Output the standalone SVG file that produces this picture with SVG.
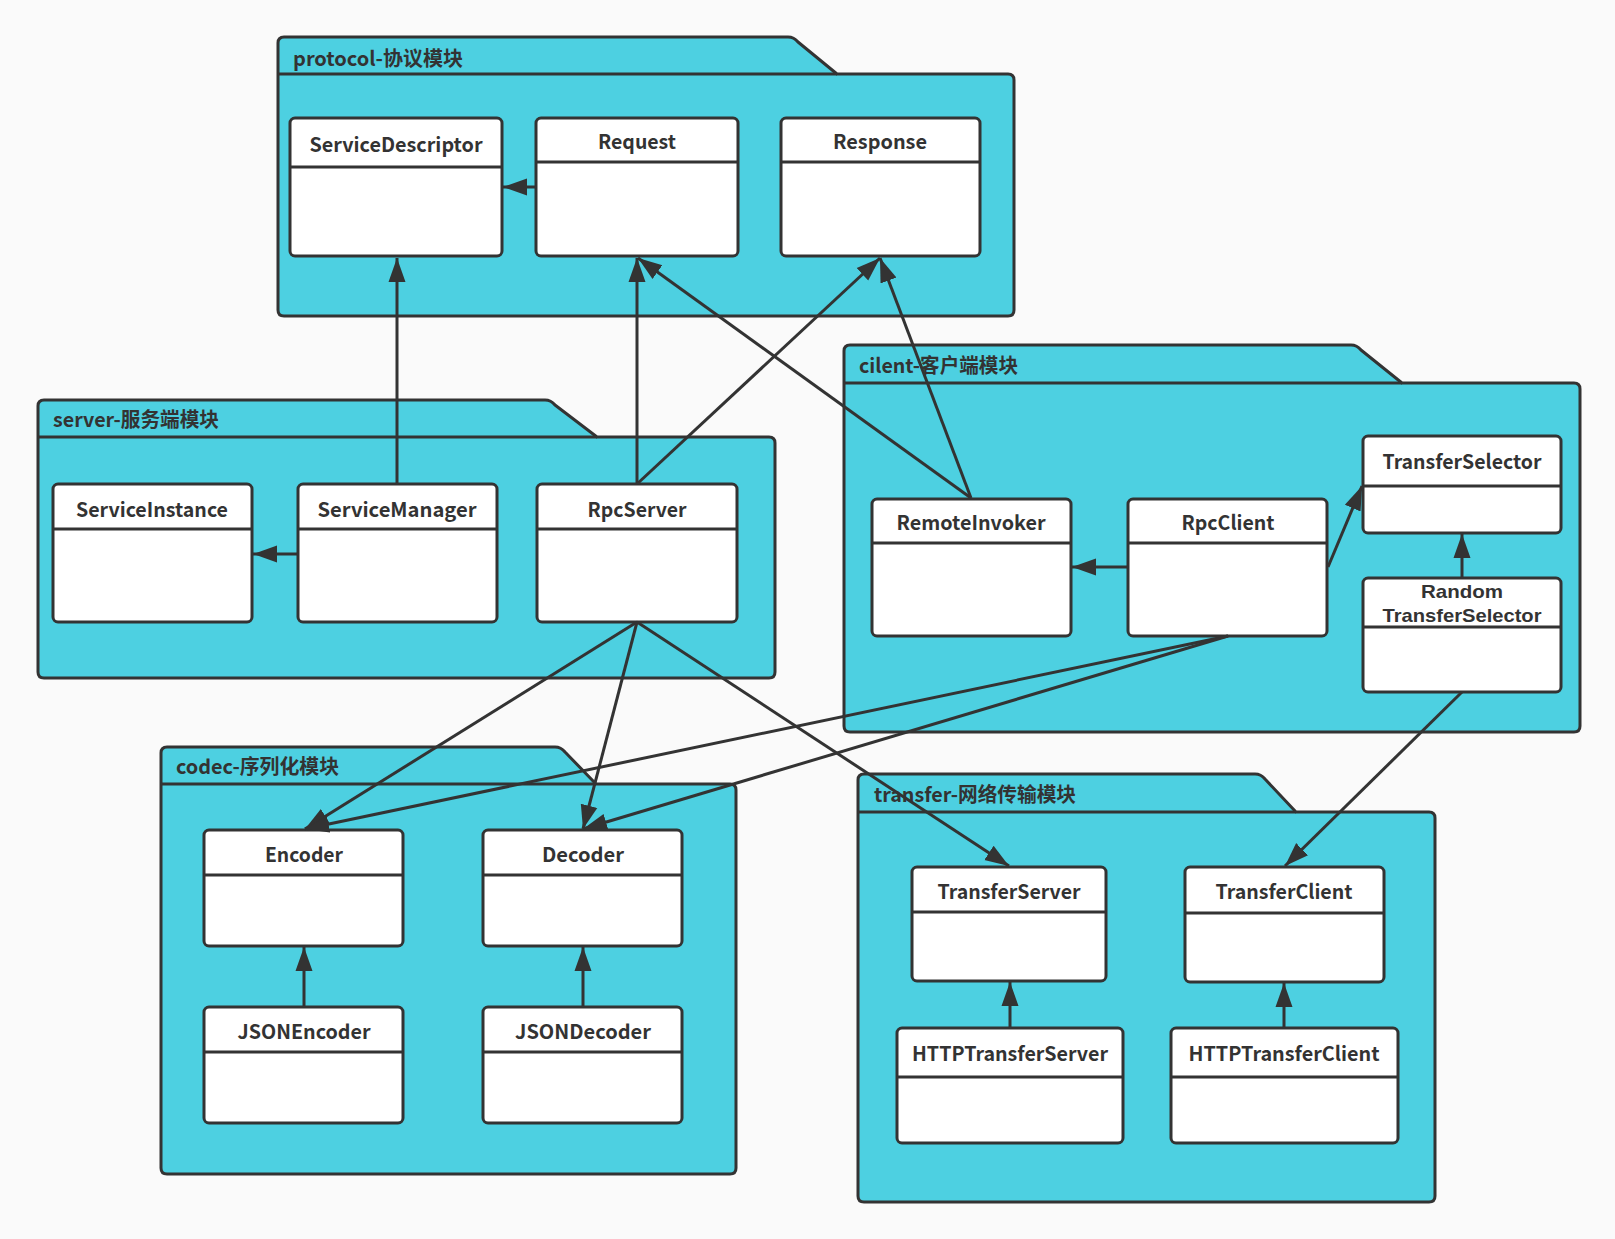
<svg xmlns="http://www.w3.org/2000/svg" width="1615" height="1239" viewBox="0 0 1615 1239">
<style>
.pkg{fill:#4DD0E1;stroke:#333;stroke-width:3;stroke-linejoin:round}
.sep{stroke:#333;stroke-width:3;fill:none}
.box{fill:#fff;stroke:#333;stroke-width:3}
.plabel{font-family:"Noto Sans CJK SC","Noto Sans",sans-serif;font-weight:bold;font-size:20px;fill:#333}
.nlabel{font-family:"Noto Sans CJK SC","Noto Sans",sans-serif;font-weight:bold;font-size:20px;fill:#333;text-anchor:middle}
.tight{font-family:"Liberation Sans",Arial,sans-serif;font-size:19px}
.conn line{stroke:#333;stroke-width:3;marker-end:url(#arr)}
</style>
<defs>
<marker id="arr" markerUnits="userSpaceOnUse" markerWidth="26" markerHeight="20" viewBox="0 0 26 20" refX="24" refY="10" orient="auto">
<path d="M0,1.5 L24,10 L0,18.5 z" fill="#333"/>
</marker>
</defs>
<rect width="1615" height="1239" fill="#fafafa"/>

<g id="pkg-protocol">
<path class="pkg" d="M278,43 Q278,37 284,37 L788,37 Q794,37 798,42 L837,74 L1008,74 Q1014,74 1014,80 L1014,310 Q1014,316 1008,316 L284,316 Q278,316 278,310 Z"/>
<path class="sep" d="M278,74 L837,74"/>
<text class="plabel" x="293" y="66" textLength="170" lengthAdjust="spacingAndGlyphs">protocol-协议模块</text>
</g>
<g id="pkg-server">
<path class="pkg" d="M38,406 Q38,400 44,400 L545,400 Q551,400 555,405 L597,437 L769,437 Q775,437 775,443 L775,672 Q775,678 769,678 L44,678 Q38,678 38,672 Z"/>
<path class="sep" d="M38,437 L597,437"/>
<text class="plabel" x="53" y="427" textLength="166" lengthAdjust="spacingAndGlyphs">server-服务端模块</text>
</g>
<g id="pkg-client">
<path class="pkg" d="M844,351 Q844,345 850,345 L1351,345 Q1357,345 1361,350 L1402,383 L1574,383 Q1580,383 1580,389 L1580,726 Q1580,732 1574,732 L850,732 Q844,732 844,726 Z"/>
<path class="sep" d="M844,383 L1402,383"/>
<text class="plabel" x="859" y="373" textLength="159" lengthAdjust="spacingAndGlyphs">cilent-客户端模块</text>
</g>
<g id="pkg-codec">
<path class="pkg" d="M161,753 Q161,747 167,747 L555,747 Q561,747 565,752 L596,784 L730,784 Q736,784 736,790 L736,1168 Q736,1174 730,1174 L167,1174 Q161,1174 161,1168 Z"/>
<path class="sep" d="M161,784 L596,784"/>
<text class="plabel" x="176" y="774" textLength="163" lengthAdjust="spacingAndGlyphs">codec-序列化模块</text>
</g>
<g id="pkg-transfer">
<path class="pkg" d="M858,780 Q858,774 864,774 L1255,774 Q1261,774 1265,779 L1296,812 L1429,812 Q1435,812 1435,818 L1435,1196 Q1435,1202 1429,1202 L864,1202 Q858,1202 858,1196 Z"/>
<path class="sep" d="M858,812 L1296,812"/>
<text class="plabel" x="874" y="802" textLength="202" lengthAdjust="spacingAndGlyphs">transfer-网络传输模块</text>
</g>

<g id="ServiceDescriptor"><rect class="box" x="290" y="118" width="212" height="138" rx="5"/><path class="sep" d="M290,167 H502"/><text class="nlabel" x="396" y="152" textLength="173" lengthAdjust="spacingAndGlyphs">ServiceDescriptor</text></g>
<g id="Request"><rect class="box" x="536" y="118" width="202" height="138" rx="5"/><path class="sep" d="M536,162 H738"/><text class="nlabel" x="637" y="149" textLength="78" lengthAdjust="spacingAndGlyphs">Request</text></g>
<g id="Response"><rect class="box" x="781" y="118" width="199" height="138" rx="5"/><path class="sep" d="M781,162 H980"/><text class="nlabel" x="880" y="149" textLength="94" lengthAdjust="spacingAndGlyphs">Response</text></g>

<g id="ServiceInstance"><rect class="box" x="53" y="484" width="199" height="138" rx="5"/><path class="sep" d="M53,529 H252"/><text class="nlabel" x="152" y="517" textLength="152" lengthAdjust="spacingAndGlyphs">ServiceInstance</text></g>
<g id="ServiceManager"><rect class="box" x="298" y="484" width="199" height="138" rx="5"/><path class="sep" d="M298,529 H497"/><text class="nlabel" x="397" y="517" textLength="159" lengthAdjust="spacingAndGlyphs">ServiceManager</text></g>
<g id="RpcServer"><rect class="box" x="537" y="484" width="200" height="138" rx="5"/><path class="sep" d="M537,529 H737"/><text class="nlabel" x="637" y="517" textLength="99" lengthAdjust="spacingAndGlyphs">RpcServer</text></g>

<g id="RemoteInvoker"><rect class="box" x="872" y="499" width="199" height="137" rx="5"/><path class="sep" d="M872,543 H1071"/><text class="nlabel" x="971" y="530" textLength="149" lengthAdjust="spacingAndGlyphs">RemoteInvoker</text></g>
<g id="RpcClient"><rect class="box" x="1128" y="499" width="199" height="137" rx="5"/><path class="sep" d="M1128,543 H1327"/><text class="nlabel" x="1228" y="530" textLength="93" lengthAdjust="spacingAndGlyphs">RpcClient</text></g>
<g id="TransferSelector"><rect class="box" x="1363" y="436" width="198" height="97" rx="5"/><path class="sep" d="M1363,486 H1561"/><text class="nlabel" x="1462" y="469" textLength="159" lengthAdjust="spacingAndGlyphs">TransferSelector</text></g>
<g id="RandomTransferSelector"><rect class="box" x="1363" y="578" width="198" height="114" rx="5"/><path class="sep" d="M1363,627 H1561"/><text class="nlabel tight" x="1462" y="598" textLength="82" lengthAdjust="spacingAndGlyphs">Random</text><text class="nlabel tight" x="1462" y="622" textLength="159" lengthAdjust="spacingAndGlyphs">TransferSelector</text></g>

<g id="Encoder"><rect class="box" x="204" y="830" width="199" height="116" rx="5"/><path class="sep" d="M204,875 H403"/><text class="nlabel" x="304" y="862" textLength="78" lengthAdjust="spacingAndGlyphs">Encoder</text></g>
<g id="Decoder"><rect class="box" x="483" y="830" width="199" height="116" rx="5"/><path class="sep" d="M483,875 H682"/><text class="nlabel" x="583" y="862" textLength="82" lengthAdjust="spacingAndGlyphs">Decoder</text></g>
<g id="JSONEncoder"><rect class="box" x="204" y="1007" width="199" height="116" rx="5"/><path class="sep" d="M204,1052 H403"/><text class="nlabel" x="304" y="1039" textLength="133" lengthAdjust="spacingAndGlyphs">JSONEncoder</text></g>
<g id="JSONDecoder"><rect class="box" x="483" y="1007" width="199" height="116" rx="5"/><path class="sep" d="M483,1052 H682"/><text class="nlabel" x="583" y="1039" textLength="136" lengthAdjust="spacingAndGlyphs">JSONDecoder</text></g>

<g id="TransferServer"><rect class="box" x="912" y="867" width="194" height="114" rx="5"/><path class="sep" d="M912,912 H1106"/><text class="nlabel" x="1009" y="899" textLength="143" lengthAdjust="spacingAndGlyphs">TransferServer</text></g>
<g id="TransferClient"><rect class="box" x="1185" y="867" width="199" height="115" rx="5"/><path class="sep" d="M1185,913 H1384"/><text class="nlabel" x="1284" y="899" textLength="137" lengthAdjust="spacingAndGlyphs">TransferClient</text></g>
<g id="HTTPTransferServer"><rect class="box" x="897" y="1028" width="226" height="115" rx="5"/><path class="sep" d="M897,1077 H1123"/><text class="nlabel" x="1010" y="1061" textLength="196" lengthAdjust="spacingAndGlyphs">HTTPTransferServer</text></g>
<g id="HTTPTransferClient"><rect class="box" x="1171" y="1028" width="227" height="115" rx="5"/><path class="sep" d="M1171,1077 H1398"/><text class="nlabel" x="1284" y="1061" textLength="191" lengthAdjust="spacingAndGlyphs">HTTPTransferClient</text></g>

<g id="connectors" class="conn">
<line x1="536" y1="187" x2="503" y2="187"/>
<line x1="397" y1="484" x2="397" y2="258"/>
<line x1="637" y1="484" x2="637" y2="258"/>
<line x1="637" y1="484" x2="880" y2="258"/>
<line x1="971" y1="498" x2="638" y2="258"/>
<line x1="971" y1="498" x2="880" y2="258"/>
<line x1="298" y1="554" x2="253" y2="554"/>
<line x1="637" y1="622" x2="305" y2="829"/>
<line x1="637" y1="622" x2="583" y2="829"/>
<line x1="637" y1="622" x2="1009" y2="866"/>
<line x1="1128" y1="567" x2="1072" y2="567"/>
<line x1="1328" y1="567" x2="1362" y2="486"/>
<line x1="1462" y1="578" x2="1462" y2="534"/>
<line x1="1462" y1="692" x2="1285" y2="866"/>
<line x1="1228" y1="636" x2="305" y2="829"/>
<line x1="1228" y1="636" x2="583" y2="829"/>
<line x1="304" y1="1007" x2="304" y2="947"/>
<line x1="583" y1="1007" x2="583" y2="947"/>
<line x1="1010" y1="1028" x2="1010" y2="982"/>
<line x1="1284" y1="1028" x2="1284" y2="983"/>
</g>
</svg>
